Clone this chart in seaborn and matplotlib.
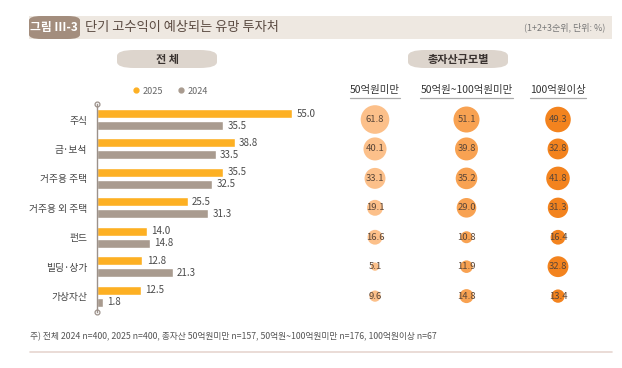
import pandas as pd
import matplotlib
matplotlib.use("Agg")
from matplotlib import pyplot as plt
from matplotlib.patches import FancyBboxPatch, Rectangle
from matplotlib.lines import Line2D
import seaborn as sns

# 데이터
categories = ["주식", "금·보석", "거주용 주택", "거주용 외 주택", "펀드", "빌딩·상가", "가상자산"]
years = ["2025", "2024"]
share_2025 = [55.0, 38.8, 35.5, 25.5, 14.0, 12.8, 12.5]
share_2024 = [35.5, 33.5, 32.5, 31.3, 14.8, 21.3, 1.8]

groups = ["50억원미만", "50억원~100억원미만", "100억원이상"]
under_50 = [61.8, 40.1, 33.1, 19.1, 16.6, 5.1, 9.6]
from_50_to_100 = [51.1, 39.8, 35.2, 29.0, 10.8, 11.9, 14.8]
over_100 = [49.3, 32.8, 41.8, 31.3, 16.4, 32.8, 13.4]

title = "단기 고수익이 예상되는 유망 투자처"
tag = "그림 III-3"
unit_note = "(1+2+3순위, 단위: %)"
footnote = "주) 전체 2024 n=400, 2025 n=400, 총자산 50억원미만 n=157, 50억원~100억원미만 n=176, 100억원이상 n=67"

sns.set_theme(style="white")
plt.rcParams["font.family"] = ["Noto Sans CJK KR", "DejaVu Sans"]

W, H = 622, 368
fig = plt.figure(figsize=(W / 100, H / 100), dpi=100)
fig.patch.set_facecolor("white")


def px_axes(left, top, width, height):
    return fig.add_axes([left / W, 1 - (top + height) / H, width / W, height / H])


def fx(x):
    return x / W


def fy(y):
    return 1 - y / H


# 제목 바
fig.patches.append(Rectangle((fx(29), fy(39)), fx(583), 23 / H, transform=fig.transFigure,
                             facecolor="#EEE8E1", edgecolor="none"))
fig.patches.append(FancyBboxPatch((fx(29), fy(39)), fx(51), 23 / H, transform=fig.transFigure,
                                  boxstyle="round,pad=0,rounding_size=0.02",
                                  facecolor="#A38D7D", edgecolor="none", mutation_aspect=H / W))
fig.text(fx(54), fy(27.5), tag, color="white", fontsize=8.5, fontweight="bold", ha="center", va="center")
fig.text(fx(85), fy(27.5), title, color="#5B4B42", fontsize=9.5, ha="left", va="center")
fig.text(fx(605), fy(27.5), unit_note, color="#777777", fontsize=6.5, ha="right", va="center")

# 섹션 알약
for cx, label in [(167, "전 체"), (458, "총자산규모별")]:
    fig.patches.append(FancyBboxPatch((fx(cx - 50), fy(68)), fx(100), 18 / H, transform=fig.transFigure,
                                      boxstyle="round,pad=0,rounding_size=0.028",
                                      facecolor="#DDD5CD", edgecolor="none", mutation_aspect=H / W))
    fig.text(fx(cx), fy(59), label, color="#3A3330", fontsize=8, fontweight="bold", ha="center", va="center")

# 막대 그래프
bar_colors = {"2025": "#FDB023", "2024": "#A99B8F"}
df_bar = pd.DataFrame({
    "category": categories * 2,
    "year": ["2025"] * len(categories) + ["2024"] * len(categories),
    "value": share_2025 + share_2024,
})

ax = px_axes(97, 104, 233, 208)
sns.barplot(data=df_bar, x="value", y="category", hue="year", hue_order=years, palette=bar_colors,
            orient="h", width=0.816, gap=0.25, legend=False, ax=ax, saturation=1)
ax.set_xlim(0, 233 / 3.55)
ax.set_ylim(6.54, -0.527)
for container in ax.containers:
    ax.bar_label(container, fmt="%.1f", padding=3, fontsize=7, color="#4A4A4A")
ax.set_xlabel("")
ax.set_ylabel("")
ax.set_xticks([])
ax.tick_params(axis="y", length=0, pad=7, labelsize=7, labelcolor="#444444")
sns.despine(ax=ax, top=True, right=True, bottom=True)
ax.spines["left"].set_color("#9C918A")
ax.spines["left"].set_linewidth(1)
ax.plot([0, 0], [0, 1], transform=ax.transAxes, marker="o", ms=3.5, mfc="white", mec="#9C918A",
        mew=0.9, linestyle="none", clip_on=False)

handles = [Line2D([], [], marker="o", linestyle="none", ms=3.5, color=bar_colors[y]) for y in years]
fig.legend(handles, years, loc="center", bbox_to_anchor=(fx(170), fy(91)), ncol=2, frameon=False,
           fontsize=6.5, labelcolor="#666666", handletextpad=0.3, columnspacing=1.6, handlelength=0.8)

# 버블 차트
bubble_colors = {groups[0]: "#FCC08A", groups[1]: "#F8A252", groups[2]: "#F3831E"}
df_bub = pd.DataFrame({
    "col": [0] * 7 + [1] * 7 + [2] * 7,
    "row": list(range(7)) * 3,
    "group": [groups[0]] * 7 + [groups[1]] * 7 + [groups[2]] * 7,
    "value": under_50 + from_50_to_100 + over_100,
})
vmin, vmax = df_bub["value"].min(), df_bub["value"].max()

ax2 = px_axes(330, 104, 280, 208)
sns.scatterplot(data=df_bub, x="col", y="row", hue="group", palette=bubble_colors, size="value",
                sizes=(6.87 * vmin, 6.87 * vmax), size_norm=(vmin, vmax), legend=False,
                edgecolor="none", ax=ax2)
ax2.set_xlim(-(375 - 330) / 91.5, 2 + (610 - 558) / 91.5)
ax2.set_ylim(6.54, -0.527)
for c, r, v in zip(df_bub["col"], df_bub["row"], df_bub["value"]):
    ax2.text(c, r, f"{v:.1f}", ha="center", va="center", fontsize=6.8, color="#5A4638")
ax2.axis("off")

fig.canvas.draw()
renderer = fig.canvas.get_renderer()
for i, g in enumerate(groups):
    t = ax2.text(i, 1 + 14 / 208, g, transform=ax2.get_xaxis_transform(), ha="center", va="center",
                 fontsize=7.5, color="#333333")
    bb = t.get_window_extent(renderer).transformed(fig.transFigure.inverted())
    fig.lines.append(Line2D([bb.x0, bb.x1], [fy(97.5)] * 2, transform=fig.transFigure,
                            color="#AAAAAA", lw=0.9))

# 주석과 하단선
fig.text(fx(30), fy(337), footnote, color="#555555", fontsize=6.3, ha="left", va="center")
fig.lines.append(Line2D([fx(30), fx(612)], [fy(352)] * 2, transform=fig.transFigure,
                        color="#E6D6CF", lw=1.2))

fig.savefig("out.png", dpi=100)
